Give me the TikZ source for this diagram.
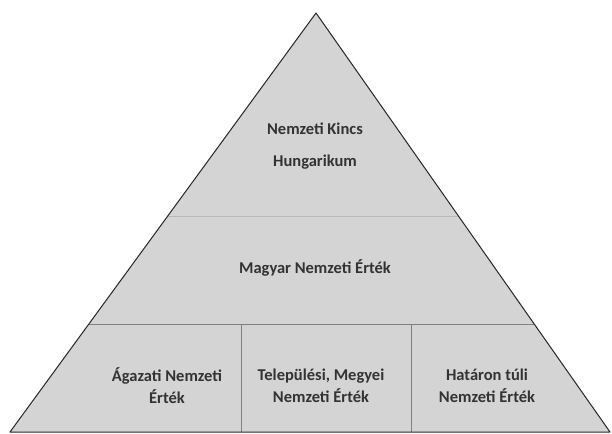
\documentclass[tikz,border=0pt]{standalone}
\usepackage{fontspec}
\setmainfont{Carlito}
\usetikzlibrary{calc}

\begin{document}
\begin{tikzpicture}[x=1pt,y=-1pt,
    level/.style={font=\fontsize{16.5}{22}\selectfont\bfseries, align=center, text=black!80},
    divider/.style={draw=black!50, line width=0.8pt}]
      \useasboundingbox (0,0) rectangle (612,433);
      \coordinate (apex) at (316,13);
      \coordinate (baseL) at (10,432);
      \coordinate (baseR) at (610,432);
      \fill[black!17] (apex) -- (baseL) -- (baseR) -- cycle;
      \draw[black!28, line width=0.6pt] ($(apex)!0.486!(baseL)$) -- ($(apex)!0.486!(baseR)$); % faint band
      \draw[divider] ($(apex)!0.743!(baseL)$) -- ($(apex)!0.743!(baseR)$); % bottom row
      \draw[divider] (241,325) -- (241,432);
      \draw[divider] (411,325) -- (411,432);
      \draw[black!85, line width=1pt, line join=round] (apex) -- (baseL) -- (baseR) -- cycle;
      \node[level] (kincs) at (315,129) {Nemzeti Kincs};
      \node[level] (hung) at (315,162) {Hungarikum};
      \node[level] (magyar) at (315,268) {Magyar Nemzeti Érték};
      \node[level] (agazati) at (167,386) {Ágazati Nemzeti\\Érték};
      \node[level] (telep) at (321,386) {Települési, Megyei\\Nemzeti Érték};
      \node[level] (hatar) at (487,386) {Határon túli\\Nemzeti Érték};
    \end{tikzpicture}
\end{document}
